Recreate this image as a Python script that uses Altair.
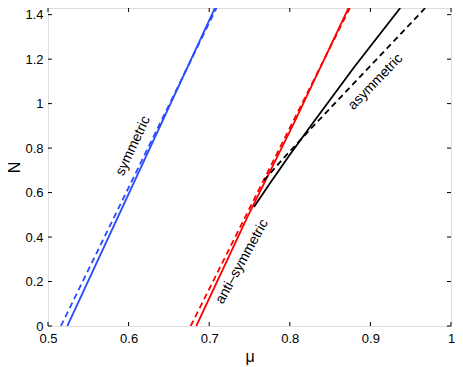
import altair as alt
import pandas as pd

# ---- data ----
sym_solid_mu = [0.524, 0.7071]
sym_solid_N = [0.0, 1.43]
sym_dash_mu = [0.516, 0.709]
sym_dash_N = [0.0, 1.43]

anti_solid_mu = [0.684, 0.7463, 0.8065, 0.8728]
anti_solid_N = [0.0, 0.482, 0.922, 1.43]
anti_dash_mu = [0.677, 0.8745]
anti_dash_N = [0.0, 1.43]

asym_solid_mu = [0.7555, 0.775, 0.800, 0.830, 0.880, 0.937]
asym_solid_N = [0.535, 0.64, 0.77, 0.92, 1.165, 1.43]
asym_dash_mu = [0.768, 0.791, 0.8258, 0.968]
asym_dash_N = [0.655, 0.750, 0.886, 1.43]

label_text = ["symmetric", "anti\u2013symmetric", "asymmetric"]
label_mu = [0.6100, 0.7450, 0.9100]
label_N = [0.802, 0.2805, 1.085]
label_angle = [295, 299, 314]

x_ticks = [0.5, 0.6, 0.7, 0.8, 0.9, 1.0]
y_ticks = [0.0, 0.2, 0.4, 0.6, 0.8, 1.0, 1.2, 1.4]

BLUE = "#2a4bff"
RED = "#ff0000"
BLACK = "#000000"

W, H = 403, 318
FONT = "Liberation Sans"

xs = alt.Scale(domain=[0.5, 1.0], nice=False, zero=False)
ys = alt.Scale(domain=[0.0, 1.43], nice=False, zero=False)


def line(mu, N, color, dashed):
    df = pd.DataFrame({"mu": mu, "N": N, "o": list(range(len(mu)))})
    kw = dict(color=color, strokeWidth=1.8, clip=True)
    if dashed:
        kw["strokeDash"] = [6, 4]
    return alt.Chart(df).mark_line(**kw).encode(
        x=alt.X("mu:Q", scale=xs),
        y=alt.Y("N:Q", scale=ys),
        order="o:Q",
    )


base_x = alt.X(
    "mu:Q",
    scale=xs,
    axis=alt.Axis(
        values=x_ticks, ticks=False, domain=False, grid=False, labelFlush=False,
        labelExpr="format(datum.value, '.1~f')",
        labelFont=FONT, labelFontSize=13, labelColor="black", labelPadding=6,
        title="\u03bc", titleFont=FONT, titleFontSize=16, titleFontWeight="normal",
        titleColor="black", titlePadding=3,
    ),
)
base_y = alt.Y(
    "N:Q",
    scale=ys,
    axis=alt.Axis(
        values=y_ticks, ticks=False, domain=False, grid=False, labelFlush=False,
        labelExpr="format(datum.value, '.1~f')",
        labelFont=FONT, labelFontSize=13, labelColor="black", labelPadding=5,
        title="N", titleFont=FONT, titleFontSize=16, titleFontWeight="normal",
        titleColor="black", titlePadding=2,
    ),
)

axes_df = pd.DataFrame({"mu": [0.5, 1.0], "N": [0.0, 1.43]})
axes_layer = alt.Chart(axes_df).mark_point(opacity=0).encode(x=base_x, y=base_y)

xt = pd.DataFrame({"mu": x_ticks})
yt = pd.DataFrame({"N": y_ticks})
tick_style = dict(color="black", strokeWidth=1)
xt_bottom = alt.Chart(xt).mark_rule(**tick_style).encode(
    x=alt.X("mu:Q", scale=xs), y=alt.value(H), y2=alt.value(H - 4))
xt_top = alt.Chart(xt).mark_rule(**tick_style).encode(
    x=alt.X("mu:Q", scale=xs), y=alt.value(0), y2=alt.value(4))
yt_left = alt.Chart(yt).mark_rule(**tick_style).encode(
    y=alt.Y("N:Q", scale=ys), x=alt.value(0), x2=alt.value(4))
yt_right = alt.Chart(yt).mark_rule(**tick_style).encode(
    y=alt.Y("N:Q", scale=ys), x=alt.value(W), x2=alt.value(W - 4))

labels = []
for t, m, n, a in zip(label_text, label_mu, label_N, label_angle):
    d = pd.DataFrame({"mu": [m], "N": [n], "t": [t]})
    labels.append(
        alt.Chart(d).mark_text(
            font=FONT, fontSize=14, color="black", angle=a,
            align="center", baseline="alphabetic",
        ).encode(x=alt.X("mu:Q", scale=xs), y=alt.Y("N:Q", scale=ys), text="t:N")
    )

chart = alt.layer(
    axes_layer,
    line(sym_dash_mu, sym_dash_N, BLUE, True),
    line(sym_solid_mu, sym_solid_N, BLUE, False),
    line(anti_dash_mu, anti_dash_N, RED, True),
    line(anti_solid_mu, anti_solid_N, RED, False),
    line(asym_dash_mu, asym_dash_N, BLACK, True),
    line(asym_solid_mu, asym_solid_N, BLACK, False),
    xt_bottom, xt_top, yt_left, yt_right,
    *labels,
).properties(
    width=W, height=H,
    autosize=alt.AutoSizeParams(type="none"),
    padding={"left": 40, "top": 0, "right": 4, "bottom": 40},
).configure_view(
    stroke="black", strokeWidth=1.2,
).configure(background="white")

chart.save("out.html", embed_options={"renderer": "svg", "actions": False})
